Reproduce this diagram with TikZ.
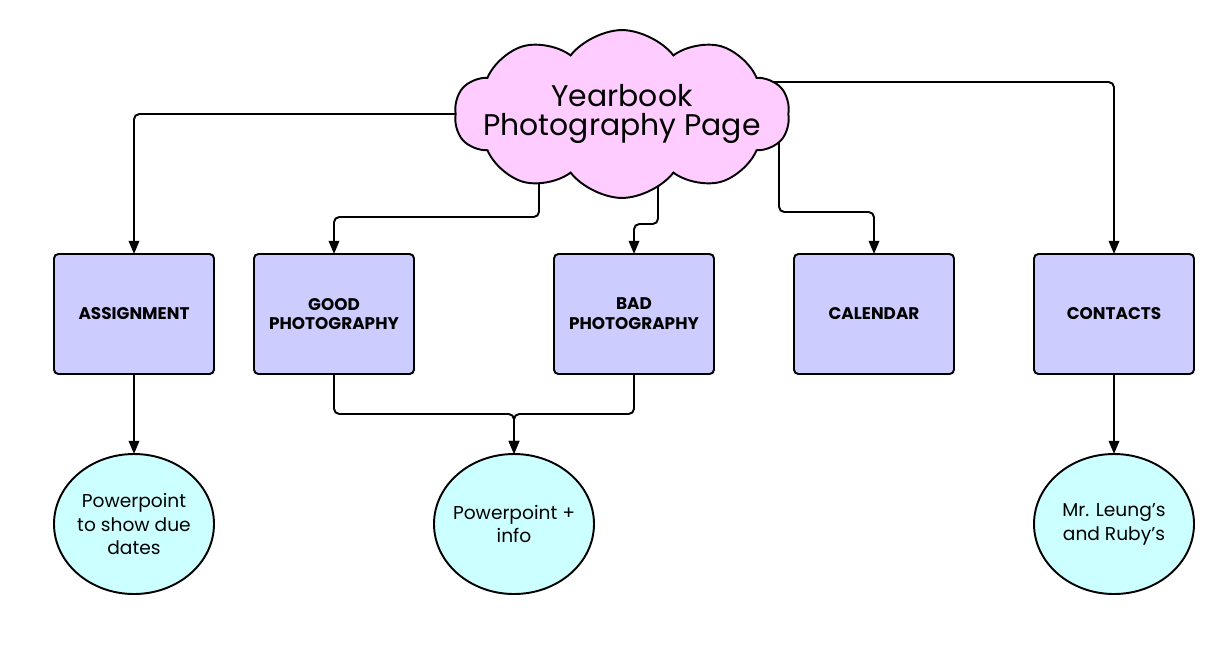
\documentclass[tikz,border=0pt]{standalone}
\usepackage{fontspec}
\setmainfont{Poppins}
\usepackage{tikz}
\usetikzlibrary{positioning, shapes.symbols, shapes.geometric, arrows.meta, backgrounds}
\definecolor{cloudpink}{HTML}{FFCCFF}
\definecolor{boxblue}{HTML}{CCCCFF}
\definecolor{notecyan}{HTML}{CCFFFF}

\begin{document}
\begin{tikzpicture}[node distance=1.6cm, line width=1.1pt, >={Triangle[length=7.5pt,width=6pt]},
  topic/.style={draw, fill=boxblue, rounded corners=2.5pt, outer sep=0pt, minimum width=3.2cm, minimum height=2.4cm, align=center, font=\fontsize{9.6}{11.3}\selectfont\bfseries},
  note/.style={draw, ellipse, fill=notecyan, inner xsep=-3pt, inner ysep=0pt, outer sep=0pt, minimum width=3.2cm, minimum height=2.8cm, align=center, font=\fontsize{10.6}{13.6}\selectfont},
  link/.style={->, line width=1.1pt, rounded corners=3pt}]
  \useasboundingbox (0,0) rectangle (24.54,-13.12);
  % Nodes
  \node[cloud, draw, fill=cloudpink, cloud puffs=10, cloud puff arc=105, aspect=2.7, inner xsep=-12pt, inner ysep=-12pt, align=center, font=\fontsize{17}{16}\selectfont] (ttl) at (12.44,-2.28) {Yearbook\\Photography Page};
  \node[topic] (asg) at (2.68,-6.28) {ASSIGNMENT};
  \node[topic, right=0.8cm of asg] (gdp) {GOOD\\PHOTOGRAPHY};
  \node[topic, right=2.8cm of gdp] (bdp) {BAD\\PHOTOGRAPHY};
  \node[topic, right=of bdp] (cal) {CALENDAR};
  \node[topic, right=of cal] (cnt) {CONTACTS};
  \node[note, below=of asg] (due) {Powerpoint\\to show due\\dates};
  \node[note] (ppt) at (10.28,-10.48) {Powerpoint +\\info};
  \node[note, below=of cnt] (who) {Mr. Leung's\\and Ruby's};

  % Arrows (behind the cloud, so they start at its edge)
  \begin{pgfonlayer}{background}
    \draw[link] (ttl.center) -| (asg.north);
    \draw[link] ([xshift=-1.66cm]ttl.center) |- ([yshift=0.74cm]gdp.north) -- (gdp.north);
    \draw[link] ([xshift=0.72cm]ttl.center) |- ([yshift=0.6cm]bdp.north) -- (bdp.north);
    \draw[link] ([xshift=3.14cm]ttl.center) |- ([yshift=0.84cm]cal.north) -- (cal.north);
    \draw[link] ([yshift=0.64cm]ttl.center) -| (cnt.north);
  \end{pgfonlayer}
  \draw[link] (asg) -- (due);
  \draw[link] (gdp.south) |- ([yshift=0.8cm]ppt.north) -- (ppt.north);
  \draw[link] (bdp.south) |- ([yshift=0.8cm]ppt.north) -- (ppt.north);
  \draw[link] (cnt) -- (who);
\end{tikzpicture}
\end{document}
